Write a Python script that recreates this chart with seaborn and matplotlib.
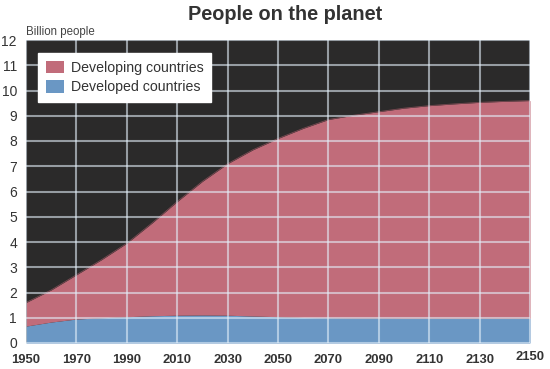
import matplotlib
matplotlib.use("Agg")
import matplotlib.pyplot as plt
import matplotlib.transforms as mtrans
from matplotlib.patches import Patch
import seaborn as sns
import pandas as pd

# ---- data (billion people) ----
years = [1950, 1960, 1970, 1980, 1990, 2000, 2010, 2020, 2030, 2040, 2050,
         2060, 2070, 2080, 2090, 2100, 2110, 2120, 2130, 2140, 2150]
total = [1.6, 2.1, 2.7, 3.3, 3.95, 4.75, 5.6, 6.4, 7.1, 7.65, 8.1,
         8.5, 8.85, 9.02, 9.16, 9.3, 9.4, 9.47, 9.53, 9.57, 9.6]
developed = [0.67, 0.83, 0.95, 1.0, 1.04, 1.08, 1.1, 1.11, 1.1, 1.07, 1.04,
             1.01, 1.0, 0.99, 0.99, 0.98, 0.98, 0.98, 0.98, 0.98, 0.98]
developing = [t - d for t, d in zip(total, developed)]
series_labels = ["Developing countries", "Developed countries"]
x_ticks = list(range(1950, 2151, 20))
y_ticks = list(range(0, 13))
title = "People on the planet"
y_unit = "Billion people"

df = pd.DataFrame({"year": years, "total": total, "developed": developed})

PINK = "#c16c7a"
BLUE = "#6a97c4"
DARK = "#2b2a2a"
TXT = "#333333"

sns.set_theme(style="dark")
plt.rcParams["font.family"] = ["Liberation Sans", "DejaVu Sans"]

fig = plt.figure(figsize=(5.5, 3.69), dpi=100)
fig.patch.set_facecolor("white")
ax = fig.add_axes([26 / 550, 26 / 369, 504 / 550, 303 / 369])
ax.set_facecolor(DARK)

ax.stackplot(df["year"], df["developed"], df["total"] - df["developed"],
             colors=[BLUE, PINK], linewidth=0, zorder=1)
sns.lineplot(data=df, x="year", y="total", color="#7a4a52", lw=0.6, ax=ax, zorder=1.1)

ax.set_xlim(1950, 2150)
ax.set_ylim(0, 12)
ax.set_xticks(x_ticks)
ax.set_yticks(y_ticks)
ax.set_xlabel("")
ax.set_ylabel("")
ax.set_axisbelow(False)
ax.grid(True, color="#e4f0fa", alpha=0.58, lw=1.5)
for s in ax.spines.values():
    s.set_visible(False)

ax.tick_params(axis="x", length=0, pad=8.0, labelsize=9.4, labelcolor=TXT)
ax.tick_params(axis="y", length=0, pad=6.5, labelsize=10, labelcolor=TXT)
for lab in ax.get_xticklabels():
    lab.set_fontweight("bold")
# last x label sits slightly higher
xl = ax.get_xticklabels()
xl[-1].set_transform(xl[-1].get_transform() +
                     mtrans.ScaledTranslation(0, 2 / 72, fig.dpi_scale_trans))

fig.text(285 / 550, 1 - 14 / 369, title, ha="center", va="center",
         fontsize=14.3, fontweight="bold", color=TXT)
fig.text(26 / 550, 1 - 34.5 / 369, y_unit, ha="left", va="baseline",
         fontsize=8.3, color="#444444")

handles = [Patch(facecolor=PINK, edgecolor="none"),
           Patch(facecolor=BLUE, edgecolor="none")]
leg = ax.legend(handles, series_labels, loc="upper left",
                bbox_to_anchor=((38 - 26) / 504, (343 - 53) / 303),
                borderaxespad=0, frameon=True, fancybox=False,
                facecolor="white", edgecolor="white", framealpha=1,
                fontsize=10.2, handlelength=1.3, handleheight=1.0,
                handletextpad=0.45, labelspacing=0.35, borderpad=0.55)
for t in leg.get_texts():
    t.set_color(TXT)
leg.set_zorder(5)

fig.savefig("out.png", dpi=100)
